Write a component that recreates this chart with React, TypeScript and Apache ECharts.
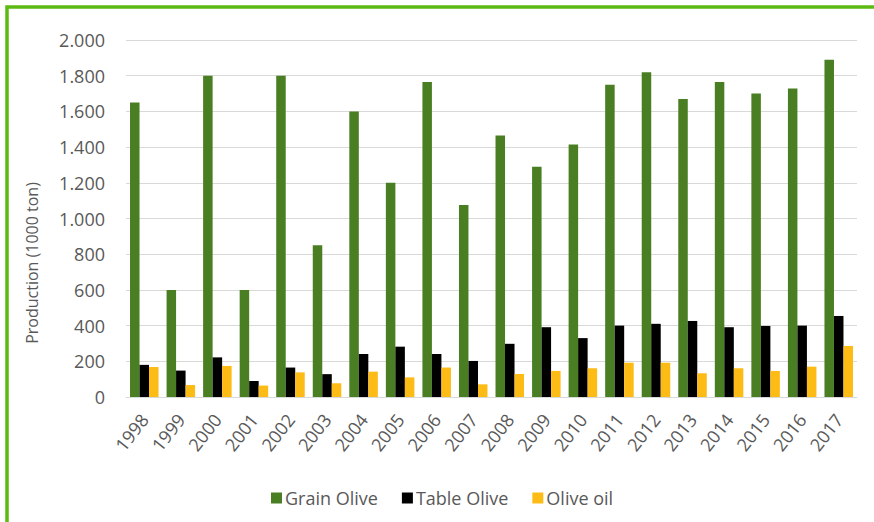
import React, { useEffect, useRef } from "react";
import * as echarts from "echarts";

// Olive production in Iran, thousand tonnes per year
const years = [
  "1998", "1999", "2000", "2001", "2002", "2003", "2004", "2005", "2006", "2007",
  "2008", "2009", "2010", "2011", "2012", "2013", "2014", "2015", "2016", "2017",
];
const grainOlive = [
  1650, 600, 1800, 600, 1800, 850, 1600, 1200, 1765, 1075,
  1465, 1290, 1415, 1750, 1820, 1670, 1765, 1700, 1728, 1890,
];
const tableOlive = [
  180, 148, 222, 90, 165, 128, 241, 282, 241, 202,
  298, 391, 330, 400, 410, 426, 391, 398, 400, 454,
];
const oliveOil = [
  168, 67, 174, 64, 138, 77, 142, 110, 165, 71,
  129, 146, 161, 192, 192, 133, 161, 146, 170, 286,
];
const yTicks = [0, 200, 400, 600, 800, 1000, 1200, 1400, 1600, 1800, 2000];

const FONT = "'Open Sans', 'Liberation Sans', sans-serif";
const TEXT = "#595959";

function formatThousands(v: number): string {
  return String(v).replace(/\B(?=(\d{3})+(?!\d))/g, ".");
}

export default function App() {
  const ref = useRef<HTMLDivElement>(null);

  useEffect(() => {
    if (!ref.current) return;
    const chart = echarts.init(ref.current, undefined, { renderer: "svg" });
    chart.setOption({
      animation: false,
      backgroundColor: "#ffffff",
      textStyle: { fontFamily: FONT },
      grid: { left: 126, right: 17, top: 40, bottom: 125, containLabel: false },
      legend: {
        left: 266,
        top: 484,
        icon: "rect",
        itemWidth: 11,
        itemHeight: 11,
        itemGap: 24,
        textStyle: { fontFamily: FONT, fontSize: 18, color: TEXT, padding: [0, 0, 0, -2] },
        data: ["Grain Olive", "Table Olive", "Olive oil"],
      },
      xAxis: {
        type: "category",
        data: years,
        axisTick: { show: false },
        axisLine: { lineStyle: { color: "#d9d9d9", width: 1 } },
        axisLabel: {
          rotate: 52,
          margin: 19,
          fontFamily: FONT,
          fontSize: 18,
          color: TEXT,
          interval: 0,
        },
      },
      yAxis: {
        type: "value",
        min: yTicks[0],
        max: yTicks[yTicks.length - 1],
        interval: 200,
        axisLine: { show: false },
        axisTick: { show: false },
        splitLine: { lineStyle: { color: "#d9d9d9", width: 1 } },
        axisLabel: {
          margin: 21,
          fontFamily: FONT,
          fontSize: 18,
          color: TEXT,
          formatter: (v: number) => formatThousands(v),
        },
      },
      graphic: [
        {
          type: "rect",
          shape: { x: 7, y: 7, width: 900, height: 600 },
          style: { fill: "none", stroke: "#5cbb12", lineWidth: 3.5 },
          silent: true,
        },
        {
          type: "text",
          x: 32,
          y: 263,
          rotation: Math.PI / 2,
          style: {
            text: "Production (1000 ton)",
            font: `16px ${FONT}`,
            fill: TEXT,
            align: "center",
            verticalAlign: "middle",
          },
        },
      ],
      series: [
        {
          name: "Grain Olive",
          type: "bar",
          data: grainOlive,
          barGap: "0%",
          barCategoryGap: "22%",
          itemStyle: { color: "#4a7e23" },
        },
        {
          name: "Table Olive",
          type: "bar",
          data: tableOlive,
          itemStyle: { color: "#000000" },
        },
        {
          name: "Olive oil",
          type: "bar",
          data: oliveOil,
          itemStyle: { color: "#fdbb16" },
        },
      ],
    });
    return () => chart.dispose();
  }, []);

  return (
    <div
      ref={ref}
      style={{ position: "absolute", left: 0, top: 0, width: 874, height: 522 }}
    />
  );
}
